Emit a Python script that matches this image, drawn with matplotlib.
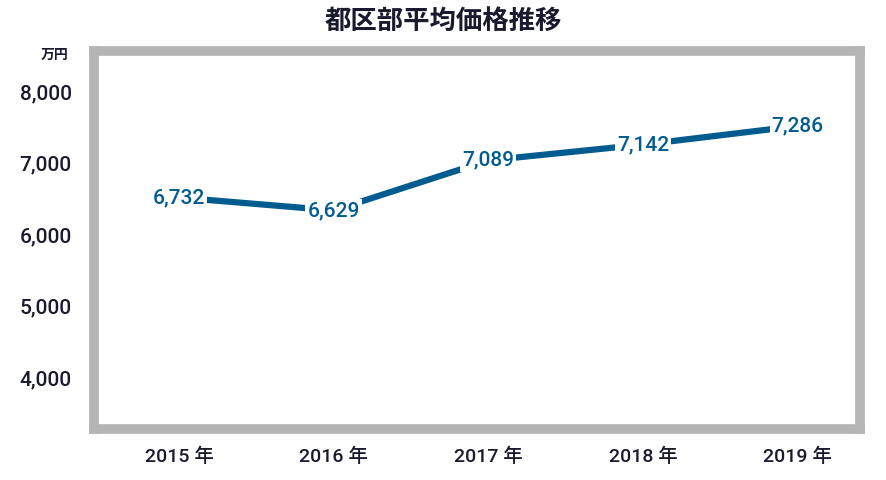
import matplotlib.pyplot as plt

plt.rcParams['font.family'] = ['Roboto', 'Noto Sans CJK JP', 'DejaVu Sans']

years = ['2015 年', '2016 年', '2017 年', '2018 年', '2019 年']
# line positions as drawn in the picture (万円)
values = [6520, 6340, 7040, 7260, 7520]
labels = ['6,732', '6,629', '7,089', '7,142', '7,286']
yticks = [4000, 5000, 6000, 7000, 8000]

blue = '#005b8f'
dark = '#1a1a2e'

fig = plt.figure(figsize=(8.87, 4.8), dpi=100)
ax = fig.add_axes([0.106, 0.107, 0.863, 0.787])

x = list(range(len(years)))
ax.plot(x, values, color=blue, lw=4.5, solid_capstyle='butt')
for xi, v, t in zip(x, values, labels):
    ax.text(xi, v, t, color=blue, fontsize=15, ha='center', va='center',
            fontweight='medium',
            bbox=dict(facecolor='white', edgecolor='none', pad=1.5))

ax.set_xlim(-0.55, 4.4)
ax.set_ylim(3290, 8570)
ax.set_xticks(x)
ax.set_xticklabels(years, fontsize=14, color=dark, fontweight='medium')
ax.set_yticks(yticks)
ax.set_yticklabels([f'{v:,}' for v in yticks], fontsize=15, color=dark,
                   fontweight='medium')
ax.tick_params(length=0, pad=14)
ax.tick_params(axis='y', pad=16)
for s in ax.spines.values():
    s.set_color('#b5b5b5')
    s.set_linewidth(7)

fig.text(0.5, 0.955, '都区部平均価格推移', ha='center', va='center',
         fontsize=19, fontweight='bold', color=dark, family='Noto Sans CJK JP')
fig.text(0.062, 0.885, '万円', ha='center', va='center', fontsize=10,
         fontweight='bold', color=dark, family='Noto Sans CJK JP')

fig.savefig('out.png', dpi=100)
